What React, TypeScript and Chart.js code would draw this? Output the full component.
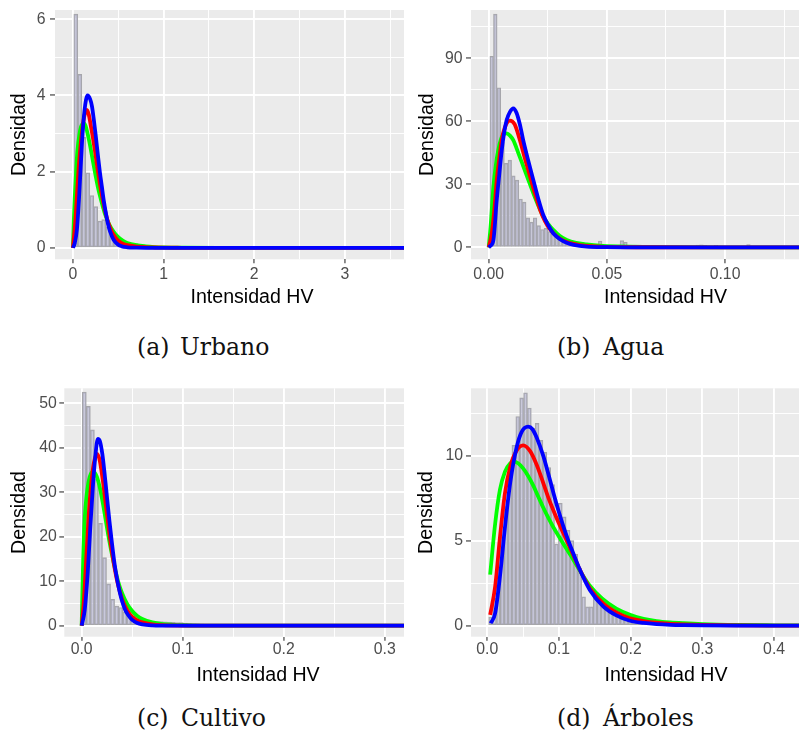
import React, { useEffect, useRef } from 'react';
import { Chart, registerables } from 'chart.js';

Chart.register(...registerables);

type Pt = [number, number];

// ---------------- (a) Urbano ----------------
const urbanoBinStart = 0.01;
const urbanoBinWidth = 0.044;
const urbanoHist = [6.13, 4.55, 2.9, 1.97, 1.37, 1.08, 0.7, 0.74, 0.55, 0.42, 0.3, 0.21, 0.16, 0.13, 0.12, 0.11, 0.1, 0.08, 0.07, 0.05, 0.04, 0.03, 0.02, 0.015, 0.01];
const urbanoGreen: Pt[] = [[0, 0], [0.01, 0.7], [0.02, 1.3], [0.035, 2.0], [0.05, 2.55], [0.07, 2.95], [0.09, 3.18], [0.12, 3.27], [0.14, 3.2], [0.16, 3.02], [0.18, 2.8], [0.2, 2.55], [0.225, 2.22], [0.25, 1.9], [0.275, 1.6], [0.3, 1.35], [0.35, 0.92], [0.4, 0.62], [0.45, 0.42], [0.5, 0.28], [0.55, 0.19], [0.6, 0.13], [0.7, 0.07], [0.8, 0.04], [0.9, 0.022], [1.0, 0.012], [1.2, 0.004], [1.6, 0], [3.95, 0]];
const urbanoRed: Pt[] = [[0, 0], [0.025, 0.64], [0.045, 1.4], [0.062, 2.04], [0.085, 2.7], [0.106, 3.15], [0.13, 3.5], [0.154, 3.62], [0.175, 3.5], [0.198, 3.2], [0.22, 2.9], [0.243, 2.55], [0.27, 2.1], [0.3, 1.65], [0.33, 1.25], [0.36, 0.92], [0.39, 0.66], [0.43, 0.42], [0.47, 0.27], [0.5, 0.19], [0.55, 0.11], [0.6, 0.07], [0.7, 0.035], [0.8, 0.018], [0.9, 0.01], [1.0, 0.005], [1.2, 0.002], [1.6, 0], [3.95, 0]];
const urbanoBlue: Pt[] = [[0, 0], [0.02, 0.12], [0.045, 0.5], [0.07, 1.4], [0.1, 2.75], [0.128, 3.6], [0.162, 4.0], [0.19, 3.9], [0.21, 3.72], [0.23, 3.38], [0.253, 2.92], [0.275, 2.45], [0.297, 2.0], [0.32, 1.6], [0.342, 1.22], [0.365, 0.9], [0.386, 0.64], [0.41, 0.43], [0.448, 0.22], [0.49, 0.1], [0.54, 0.04], [0.6, 0.015], [0.7, 0.004], [0.8, 0], [3.95, 0]];
const urbanoXTicks = [0, 1, 2, 3, 4];
const urbanoYTicks = [0, 2, 4, 6];

// ---------------- (b) Agua ----------------
const aguaBinStart = 0.0005;
const aguaBinWidth = 0.00153;
const aguaHist = [91, 111, 76, 50, 40, 41.5, 34, 32, 23, 21.5, 14, 12, 14, 10.3, 8.5, 9, 7.5, 6.7, 4.8, 4.6, 3.8, 3.5, 3.0, 2.6, 2.3, 2.4, 1.8, 1.5, 1.2, 1.0, 3.0, 0.8, 0.6, 0.5, 0.5, 0.4, 3.2, 2.4, 0.4, 0.3, 1.1, 1.1, 0.8, 1.0, 0.3, 0.2, 0.3, 0.2, 0.2, 0.2, 0.1, 0.1, 0.1, 0.1, 0.1, 0.1, 0.1, 1.1, 1.2, 0.9, 0.2, 0.2, 1.0, 0.1, 0.1, 0.1, 0.1, 0.1, 0.1, 0.1, 0.1, 1.3, 0.1, 0.1, 0.1];
const aguaGreen: Pt[] = [[0, 0], [0.0008, 9.8], [0.002, 29], [0.003, 39], [0.004, 46], [0.0052, 51.5], [0.0064, 54], [0.0076, 54.3], [0.009, 53.2], [0.0104, 51], [0.0125, 45], [0.0146, 38.7], [0.0168, 32], [0.0189, 25.7], [0.021, 19.8], [0.0231, 14.6], [0.0252, 11], [0.0273, 8.3], [0.03, 5.5], [0.033, 3.5], [0.037, 2.1], [0.0415, 1.4], [0.047, 0.8], [0.055, 0.4], [0.065, 0.15], [0.08, 0.05], [0.1, 0], [0.15, 0]];
const aguaRed: Pt[] = [[0, 0], [0.0013, 6.7], [0.0024, 18], [0.0034, 32], [0.0045, 42.5], [0.0055, 51], [0.0068, 57], [0.009, 60.3], [0.011, 58.5], [0.0132, 51], [0.0154, 42], [0.0175, 33.7], [0.0196, 25.5], [0.0217, 18], [0.0238, 12.5], [0.026, 8.5], [0.0288, 5.2], [0.0316, 3.2], [0.035, 1.9], [0.0386, 1.1], [0.043, 0.6], [0.047, 0.35], [0.055, 0.12], [0.07, 0.03], [0.09, 0], [0.15, 0]];
const aguaBlue: Pt[] = [[0, 0], [0.0008, 0.8], [0.002, 3.5], [0.0034, 22.5], [0.0045, 35], [0.0055, 46], [0.0066, 55], [0.0076, 60.6], [0.009, 64.5], [0.0104, 66.2], [0.0118, 64], [0.0132, 58.5], [0.0146, 51], [0.0168, 41], [0.0189, 32], [0.021, 23], [0.0231, 15.4], [0.0252, 10.5], [0.0273, 6.7], [0.03, 4.0], [0.033, 2.2], [0.036, 1.2], [0.0415, 0.35], [0.05, 0.08], [0.06, 0.02], [0.08, 0], [0.15, 0]];
const aguaXTicks = [0, 0.05, 0.1, 0.15];
const aguaYTicks = [0, 30, 60, 90];

// ---------------- (c) Cultivo ----------------
const cultivoBinStart = 0.0006;
const cultivoBinWidth = 0.004;
const cultivoHist = [52.5, 49.3, 44.0, 33, 23, 15.3, 9.4, 5.9, 4.4, 4.1, 3.1, 2.8, 2.2, 1.6, 1.4, 1.2, 1.1, 1.0, 0.95, 0.9, 0.85, 0.8, 0.75, 0.7, 0.7, 0.6, 0.5, 0.45, 0.4, 0.35, 0.3, 0.25, 0.2, 0.2, 0.15, 0.15, 0.1, 0.1, 0.1, 0.08, 0.06, 0.05];
const cultivoGreen: Pt[] = [[0, 0], [0.0015, 15], [0.003, 24], [0.005, 29.5], [0.008, 33.5], [0.0115, 34.7], [0.015, 33.5], [0.018, 31], [0.021, 27.5], [0.024, 23.5], [0.027, 19.5], [0.03, 16], [0.033, 12.8], [0.036, 10], [0.04, 7.3], [0.045, 4.9], [0.05, 3.3], [0.055, 2.2], [0.06, 1.5], [0.07, 0.75], [0.08, 0.38], [0.09, 0.2], [0.1, 0.1], [0.12, 0.03], [0.16, 0], [0.35, 0]];
const cultivoRed: Pt[] = [[0, 0], [0.002, 5], [0.0045, 15], [0.007, 25], [0.0095, 32], [0.012, 36.5], [0.0152, 38.6], [0.018, 37], [0.021, 32.5], [0.024, 27], [0.027, 21.5], [0.03, 16.5], [0.033, 12.5], [0.036, 9.2], [0.04, 6.0], [0.045, 3.5], [0.05, 2.0], [0.055, 1.2], [0.06, 0.75], [0.07, 0.3], [0.08, 0.13], [0.1, 0.03], [0.14, 0], [0.35, 0]];
const cultivoBlue: Pt[] = [[0, 0], [0.003, 3.5], [0.006, 12], [0.0085, 22], [0.011, 31], [0.0135, 38], [0.016, 42], [0.018, 41.5], [0.0205, 38.5], [0.023, 33.5], [0.025, 29], [0.0275, 23.5], [0.03, 18.5], [0.0325, 14], [0.035, 10.5], [0.0375, 7.7], [0.04, 5.5], [0.043, 3.6], [0.046, 2.4], [0.05, 1.3], [0.055, 0.6], [0.06, 0.3], [0.07, 0.08], [0.08, 0.02], [0.1, 0], [0.35, 0]];
const cultivoXTicks = [0, 0.1, 0.2, 0.3];
const cultivoYTicks = [0, 10, 20, 30, 40, 50];

// ---------------- (d) Árboles ----------------
const arbolesBinStart = 0.002;
const arbolesBinWidth = 0.0054;
const arbolesHist = [0.5, 1.6, 3.3, 5.2, 7.0, 8.8, 10.6, 12.3, 13.4, 13.7, 12.8, 11.6, 11.9, 10.9, 10.2, 9.3, 8.3, 4.8, 7.2, 6.4, 5.6, 5.0, 4.2, 3.4, 1.7, 1.1, 1.1, 1.9, 1.7, 1.5, 1.3, 1.1, 0.95, 0.8, 0.68, 0.58, 0.5, 0.42, 0.36, 0.3, 0.26, 0.22, 0.18, 0.15, 0.13, 0.11, 0.09, 0.08, 0.07, 0.06, 0.05, 0.04, 0.04, 0.03, 0.03, 0.02];
const arbolesGreen: Pt[] = [[0.004, 3.0], [0.011, 6.0], [0.0177, 8.0], [0.0247, 9.06], [0.032, 9.55], [0.037, 9.65], [0.043, 9.55], [0.05, 9.25], [0.057, 8.8], [0.064, 8.25], [0.071, 7.6], [0.078, 6.95], [0.085, 6.35], [0.092, 5.8], [0.099, 5.3], [0.106, 4.82], [0.113, 4.35], [0.12, 3.88], [0.129, 3.25], [0.143, 2.35], [0.16, 1.6], [0.18, 1.0], [0.2, 0.62], [0.218, 0.4], [0.236, 0.27], [0.255, 0.19], [0.274, 0.14], [0.3, 0.09], [0.35, 0.04], [0.4, 0.02], [0.45, 0.01], [0.5, 0]];
const arbolesRed: Pt[] = [[0.004, 0.63], [0.011, 2.3], [0.0177, 5.2], [0.0247, 7.8], [0.032, 9.35], [0.041, 10.3], [0.05, 10.6], [0.06, 10.25], [0.069, 9.45], [0.078, 8.4], [0.085, 7.55], [0.092, 6.8], [0.099, 6.1], [0.106, 5.45], [0.113, 4.8], [0.12, 4.15], [0.129, 3.3], [0.143, 2.2], [0.162, 1.3], [0.18, 0.78], [0.199, 0.43], [0.218, 0.27], [0.236, 0.17], [0.255, 0.11], [0.274, 0.07], [0.3, 0.04], [0.35, 0.015], [0.4, 0.005], [0.5, 0]];
const arbolesBlue: Pt[] = [[0.0047, 0.14], [0.011, 0.73], [0.0177, 2.9], [0.0247, 5.8], [0.032, 8.4], [0.041, 10.5], [0.048, 11.4], [0.057, 11.7], [0.063, 11.55], [0.069, 11.05], [0.078, 10.0], [0.085, 8.95], [0.092, 7.85], [0.099, 6.8], [0.106, 5.85], [0.113, 5.0], [0.12, 4.25], [0.129, 3.3], [0.143, 2.1], [0.162, 1.12], [0.18, 0.6], [0.199, 0.29], [0.218, 0.16], [0.236, 0.09], [0.255, 0.05], [0.274, 0.03], [0.3, 0.015], [0.35, 0.005], [0.5, 0]];
const arbolesXTicks = [0, 0.1, 0.2, 0.3, 0.4, 0.5];
const arbolesYTicks = [0, 5, 10];

const xTitle = 'Intensidad HV';
const yTitle = 'Densidad';

interface PanelDef {
  binStart: number; binWidth: number; hist: number[];
  green: Pt[]; red: Pt[]; blue: Pt[];
  xTicks: number[]; yTicks: number[]; xDec: number; yDec: number;
  xMin: number; xMax: number; yMin: number; yMax: number;
  box: { left: number; top: number; width: number; height: number };
  canvasW: number; canvasH: number;
  padTop: number; yAxisW: number; xAxisH: number;
  xTickPad: number; yTickPad: number; yTitlePad: number;
  tag: string; name: string; capTop: number; tagLeft: number; nameLeft: number;
}

const panels: PanelDef[] = [
  {
    binStart: urbanoBinStart, binWidth: urbanoBinWidth, hist: urbanoHist,
    green: urbanoGreen, red: urbanoRed, blue: urbanoBlue,
    xTicks: urbanoXTicks, yTicks: urbanoYTicks, xDec: 0, yDec: 0,
    xMin: -0.1975, xMax: 4.15, yMin: -0.3, yMax: 6.24,
    box: { left: 0, top: 0, width: 404, height: 330 }, canvasW: 452, canvasH: 312,
    padTop: 10, yAxisW: 55, xAxisH: 52.7, xTickPad: 2, yTickPad: 4.5, yTitlePad: 8.2,
    tag: '(a)', name: 'Urbano', capTop: 336, tagLeft: 137, nameLeft: 180,
  },
  {
    binStart: aguaBinStart, binWidth: aguaBinWidth, hist: aguaHist,
    green: aguaGreen, red: aguaRed, blue: aguaBlue,
    xTicks: aguaXTicks, yTicks: aguaYTicks, xDec: 2, yDec: 0,
    xMin: -0.00749, xMax: 0.1571, yMin: -5.7, yMax: 113,
    box: { left: 404, top: 0, width: 395, height: 330 }, canvasW: 459, canvasH: 312,
    padTop: 10, yAxisW: 67, xAxisH: 52.7, xTickPad: 2, yTickPad: 3.5, yTitlePad: 11.5,
    tag: '(b)', name: 'Agua', capTop: 336, tagLeft: 557, nameLeft: 603,
  },
  {
    binStart: cultivoBinStart, binWidth: cultivoBinWidth, hist: cultivoHist,
    green: cultivoGreen, red: cultivoRed, blue: cultivoBlue,
    xTicks: cultivoXTicks, yTicks: cultivoYTicks, xDec: 1, yDec: 0,
    xMin: -0.0172, xMax: 0.3666, yMin: -2.47, yMax: 53.35,
    box: { left: 0, top: 378, width: 404, height: 320 }, canvasW: 455, canvasH: 312,
    padTop: 10.3, yAxisW: 64.3, xAxisH: 53.3, xTickPad: -0.8, yTickPad: 2.5, yTitlePad: 8.2,
    tag: '(c)', name: 'Cultivo', capTop: 707, tagLeft: 137, nameLeft: 181,
  },
  {
    binStart: arbolesBinStart, binWidth: arbolesBinWidth, hist: arbolesHist,
    green: arbolesGreen, red: arbolesRed, blue: arbolesBlue,
    xTicks: arbolesXTicks, yTicks: arbolesYTicks, xDec: 1, yDec: 0,
    xMin: -0.0227, xMax: 0.5212, yMin: -0.65, yMax: 13.96,
    box: { left: 404, top: 378, width: 395, height: 320 }, canvasW: 460, canvasH: 312,
    padTop: 10.3, yAxisW: 67, xAxisH: 53.3, xTickPad: -0.8, yTickPad: 3, yTitlePad: 11.2,
    tag: '(d)', name: 'Árboles', capTop: 707, tagLeft: 557, nameLeft: 603,
  },
];

const FONT = "'Liberation Sans', Arial, Helvetica, sans-serif";

function makeTicks(major: number[], min: number, max: number) {
  const step = major[1] - major[0];
  const out: { value: number; isMajor: boolean }[] = [];
  major.forEach((v) => { if (v >= min && v <= max) out.push({ value: v, isMajor: true }); });
  for (let k = -1; k < major.length; k++) {
    const v = major[0] + (k + 0.5) * step;
    if (v >= min && v <= max) out.push({ value: v, isMajor: false });
  }
  out.sort((a, b) => a.value - b.value);
  return out;
}

const panelBg = {
  id: 'panelBg',
  beforeDraw(chart: any) {
    const { ctx, chartArea: a } = chart;
    ctx.save();
    ctx.fillStyle = '#EBEBEB';
    ctx.fillRect(a.left, a.top, a.right - a.left, a.bottom - a.top);
    ctx.restore();
  },
};

function Panel({ p }: { p: PanelDef }) {
  const ref = useRef<HTMLCanvasElement>(null);
  useEffect(() => {
    const canvas = ref.current!;
    const centers = p.hist.map((_, i) => p.binStart + (i + 0.5) * p.binWidth);
    const line = (pts: Pt[], color: string, order: number) => ({
      type: 'line' as const,
      data: pts.map(([x, y]) => ({ x, y })),
      borderColor: color,
      backgroundColor: color,
      borderWidth: 3.8,
      pointRadius: 0,
      pointHoverRadius: 0,
      fill: false,
      cubicInterpolationMode: 'monotone' as const,
      order,
    });
    const gridOpts = (len: number) => ({
      offset: false,
      color: '#FFFFFF',
      lineWidth: (c: any) => (c.tick && c.tick.isMajor ? 1.9 : 0.95),
      drawTicks: true,
      tickLength: len,
      tickWidth: 1.1,
      tickColor: (c: any) => (c.tick && c.tick.isMajor ? '#333333' : 'rgba(0,0,0,0)'),
    });
    const chart = new Chart(canvas, {
      type: 'bar',
      data: {
        datasets: [
          line(p.blue, '#0000FF', 0),
          line(p.red, '#FF0000', 1),
          line(p.green, '#00FF00', 2),
          {
            type: 'bar' as const,
            data: centers.map((x, i) => ({ x, y: p.hist[i] })),
            backgroundColor: 'rgba(178,178,206,0.6)',
            borderColor: '#A6A6AA',
            borderWidth: 1,
            borderSkipped: false,
            barPercentage: 1,
            categoryPercentage: 1,
            order: 3,
          } as any,
        ],
      },
      options: {
        responsive: false,
        animation: false,
        events: [],
        layout: { padding: { top: p.padTop, right: 3, left: 0, bottom: 0 } },
        plugins: { legend: { display: false }, tooltip: { enabled: false }, title: { display: false } },
        scales: {
          x: {
            type: 'linear',
            position: 'bottom',
            min: p.xMin,
            max: p.xMax,
            offset: false,
            afterBuildTicks: (s: any) => { s.ticks = makeTicks(p.xTicks, p.xMin, p.xMax); },
            afterFit: (s: any) => { s.height = p.xAxisH; s.paddingLeft = 0; s.paddingRight = 0; s.paddingTop = 0; s.paddingBottom = 0; },
            ticks: {
              autoSkip: false, maxRotation: 0, minRotation: 0,
              color: '#4D4D4D', font: { family: FONT, size: 15.8 }, padding: p.xTickPad,
              callback: (v: any, i: number, ticks: any[]) => (ticks[i].isMajor ? Number(v).toFixed(p.xDec) : ''),
            },
            grid: gridOpts(4),
            border: { display: false },
            title: { display: true, text: xTitle, color: '#000000', font: { family: FONT, size: 19.6 }, padding: { top: 0, bottom: 2.74 } },
          } as any,
          y: {
            type: 'linear',
            position: 'left',
            min: p.yMin,
            max: p.yMax,
            afterBuildTicks: (s: any) => { s.ticks = makeTicks(p.yTicks, p.yMin, p.yMax); },
            afterFit: (s: any) => { s.width = p.yAxisW; s.paddingLeft = 0; s.paddingRight = 0; s.paddingTop = 0; s.paddingBottom = 0; },
            ticks: {
              autoSkip: false,
              color: '#4D4D4D', font: { family: FONT, size: 15.8 }, padding: p.yTickPad,
              callback: (v: any, i: number, ticks: any[]) => (ticks[i].isMajor ? Number(v).toFixed(p.yDec) : ''),
            },
            grid: gridOpts(5),
            border: { display: false },
            title: { display: true, text: yTitle, color: '#000000', font: { family: FONT, size: 19.6 }, padding: { top: p.yTitlePad, bottom: 0 } },
          } as any,
        },
      },
      plugins: [panelBg],
    } as any);
    return () => chart.destroy();
  }, [p]);

  return (
    <div style={{ position: 'absolute', left: p.box.left, top: p.box.top, width: p.box.width, height: p.box.height, overflow: 'hidden' }}>
      <canvas ref={ref} width={p.canvasW} height={p.canvasH} style={{ display: 'block' }} />
    </div>
  );
}

const capStyle: React.CSSProperties = {
  position: 'absolute',
  fontFamily: "'DejaVu Serif', 'Liberation Serif', serif",
  fontSize: 23.5,
  lineHeight: '23.5px',
  color: '#111111',
  whiteSpace: 'nowrap',
};

export default function App() {
  return (
    <div style={{ position: 'absolute', left: 0, top: 0, width: 799, height: 738, background: '#FFFFFF', overflow: 'hidden' }}>
      {panels.map((p, i) => (
        <React.Fragment key={i}>
          <Panel p={p} />
          <span style={{ ...capStyle, left: p.tagLeft, top: p.capTop }}>{p.tag}</span>
          <span style={{ ...capStyle, left: p.nameLeft, top: p.capTop }}>{p.name}</span>
        </React.Fragment>
      ))}
    </div>
  );
}
